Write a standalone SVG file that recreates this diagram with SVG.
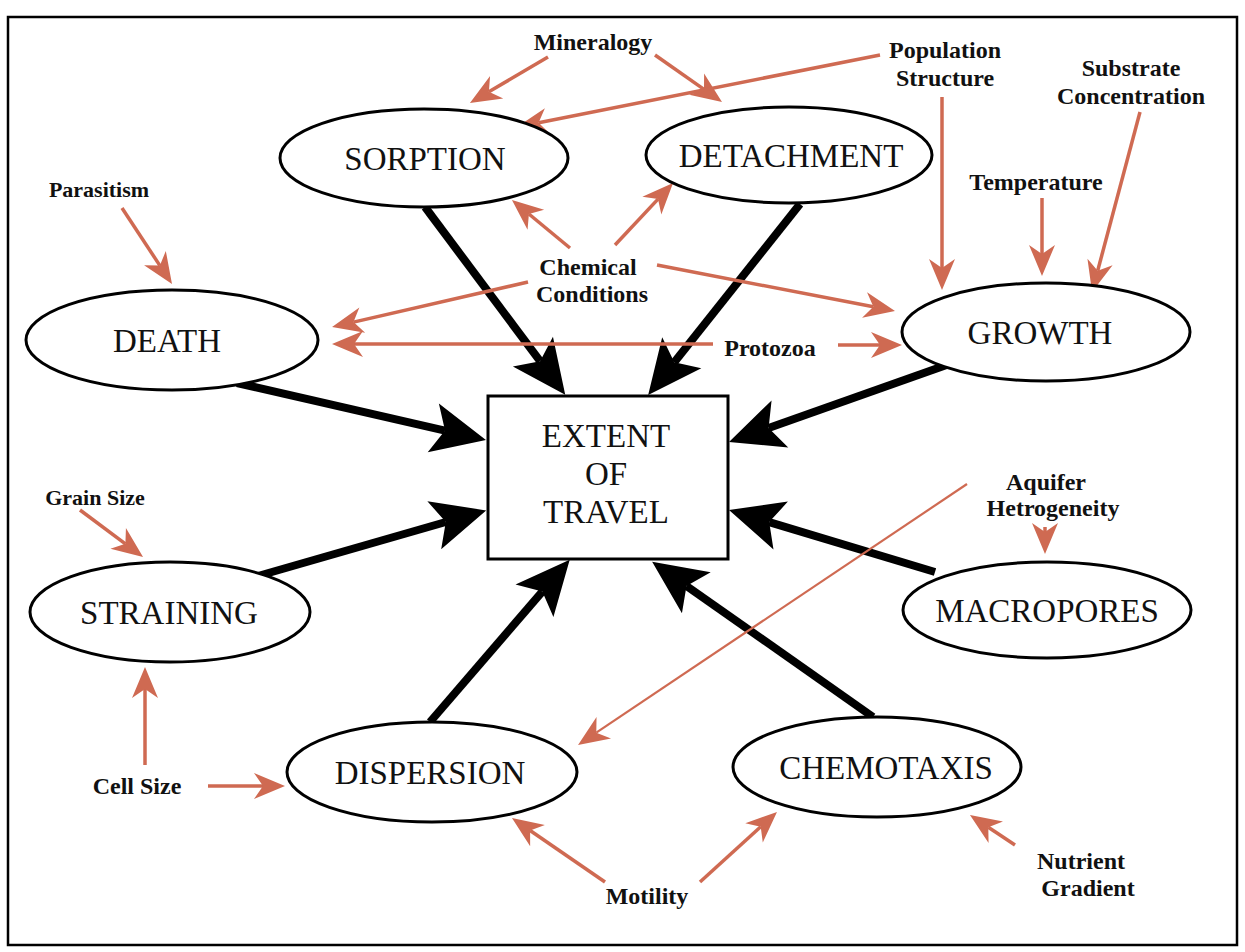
<svg xmlns="http://www.w3.org/2000/svg" width="1245" height="952" viewBox="0 0 1245 952">
<style>
.node{fill:#fff;stroke:#000;stroke-width:3}
.nt{font-family:"Liberation Serif",serif;font-size:33px;fill:#111;text-anchor:middle}
.ft{font-family:"Liberation Serif",serif;font-size:24px;font-weight:bold;fill:#111;text-anchor:middle}
.fs{font-size:22px}
.blk{stroke:#000;stroke-width:8;fill:none;marker-end:url(#bh)}
.red{stroke:#cf6a52;stroke-width:3.5;fill:none;marker-end:url(#rh)}
.thin{stroke:#cf6a52;stroke-width:2.2;fill:none;marker-end:url(#rh)}
</style>
<defs>
<marker id="bh" markerUnits="userSpaceOnUse" viewBox="-14 -27 58 54" markerWidth="58" markerHeight="54" refX="0" refY="0" orient="auto">
<path d="M42,0 L-12,-25 L0,0 L-12,25 Z" fill="#000"/>
</marker>
<marker id="rh" markerUnits="userSpaceOnUse" viewBox="-11 -15 35 30" markerWidth="35" markerHeight="30" refX="0" refY="0" orient="auto">
<path d="M22,0 L-9,-13 L0,0 L-9,13 Z" fill="#cf6a52"/>
</marker>
</defs>
<rect x="0" y="0" width="1245" height="952" fill="#fff"/>
<rect x="8" y="17" width="1229" height="928" fill="none" stroke="#000" stroke-width="2.5"/>

<g id="connectors">
<path class="blk" d="M425,207 L540.1,361.2"/>
<path class="blk" d="M800,204 L674.3,362.2"/>
<path class="blk" d="M237,383 L445,430.6"/>
<path class="blk" d="M955,362 L768.6,428"/>
<path class="blk" d="M258,576 L445.8,522"/>
<path class="blk" d="M430,722 L542.3,591.6"/>
<path class="blk" d="M873,717 L686.5,585.9"/>
<path class="blk" d="M935,572 L769.2,522.1"/>

<path class="red" d="M548,57 L488.9,91.8"/>
<path class="red" d="M655,55 L704,89.4"/>
<path class="red" d="M880,55 L538.6,122.7"/>
<path class="red" d="M942,97 L942,268"/>
<path class="red" d="M1042,198 L1042,254"/>
<path class="red" d="M1140,112 L1097.7,270.7"/>
<path class="red" d="M122,208 L159.9,265.6"/>
<path class="red" d="M570,248 L528.9,214"/>
<path class="red" d="M615,245 L658,199.1"/>
<path class="red" d="M528,282 L353.5,322.1"/>
<path class="red" d="M657,265 L873.4,306.8"/>
<path class="red" d="M713,344 L354,344"/>
<path class="red" d="M838,345 L880,345"/>
<path class="red" d="M80,510 L125.4,543.8"/>
<path class="red" d="M145,765 L145,689"/>
<path class="red" d="M208,786 L263,786"/>
<path class="thin" d="M967,484 L596.3,732.7"/>
<path class="red" d="M1045,527 L1045,532"/>
<path class="red" d="M605,882 L530.1,830.5"/>
<path class="red" d="M700,882 L760.7,826.8"/>
<path class="red" d="M1015,845 L988.3,827.2"/>
</g>

<g id="sorption"><ellipse class="node" cx="424" cy="158" rx="144" ry="49"/><text class="nt" x="425" y="170">SORPTION</text></g>
<g id="detachment"><ellipse class="node" cx="789" cy="155" rx="143" ry="48"/><text class="nt" x="791" y="167">DETACHMENT</text></g>
<g id="death"><ellipse class="node" cx="172" cy="340" rx="146" ry="50"/><text class="nt" x="167" y="352">DEATH</text></g>
<g id="growth"><ellipse class="node" cx="1046" cy="332" rx="144" ry="49"/><text class="nt" x="1040" y="344">GROWTH</text></g>
<g id="extent"><rect class="node" x="488" y="396" width="240" height="163" stroke-width="2.5"/>
<text class="nt" x="606" y="447">EXTENT</text><text class="nt" x="606" y="485">OF</text><text class="nt" x="606" y="523">TRAVEL</text></g>
<g id="straining"><ellipse class="node" cx="170" cy="612" rx="140" ry="50"/><text class="nt" x="169" y="624">STRAINING</text></g>
<g id="dispersion"><ellipse class="node" cx="432" cy="772" rx="145" ry="50"/><text class="nt" x="430" y="784">DISPERSION</text></g>
<g id="chemotaxis"><ellipse class="node" cx="877" cy="767" rx="144" ry="50"/><text class="nt" x="886" y="779">CHEMOTAXIS</text></g>
<g id="macropores"><ellipse class="node" cx="1047" cy="610" rx="144" ry="48"/><text class="nt" x="1047" y="622">MACROPORES</text></g>

<g id="mineralogy"><text class="ft" x="593" y="50">Mineralogy</text></g>
<g id="population"><text class="ft" x="945" y="58">Population</text><text class="ft" x="945" y="86">Structure</text></g>
<g id="substrate"><text class="ft" x="1131" y="76">Substrate</text><text class="ft" x="1131" y="104">Concentration</text></g>
<g id="parasitism"><text class="ft fs" x="99" y="197">Parasitism</text></g>
<g id="temperature"><text class="ft" x="1036" y="190">Temperature</text></g>
<g id="chemical"><text class="ft" x="588" y="275">Chemical</text><text class="ft" x="592" y="302">Conditions</text></g>
<g id="protozoa"><text class="ft" x="770" y="356">Protozoa</text></g>
<g id="grainsize"><text class="ft fs" x="95" y="505">Grain Size</text></g>
<g id="aquifer"><text class="ft" x="1046" y="490">Aquifer</text><text class="ft" x="1053" y="516">Hetrogeneity</text></g>
<g id="cellsize"><text class="ft" x="137" y="794">Cell Size</text></g>
<g id="motility"><text class="ft" x="647" y="904">Motility</text></g>
<g id="nutrient"><text class="ft" x="1081" y="869">Nutrient</text><text class="ft" x="1088" y="896">Gradient</text></g>
</svg>
